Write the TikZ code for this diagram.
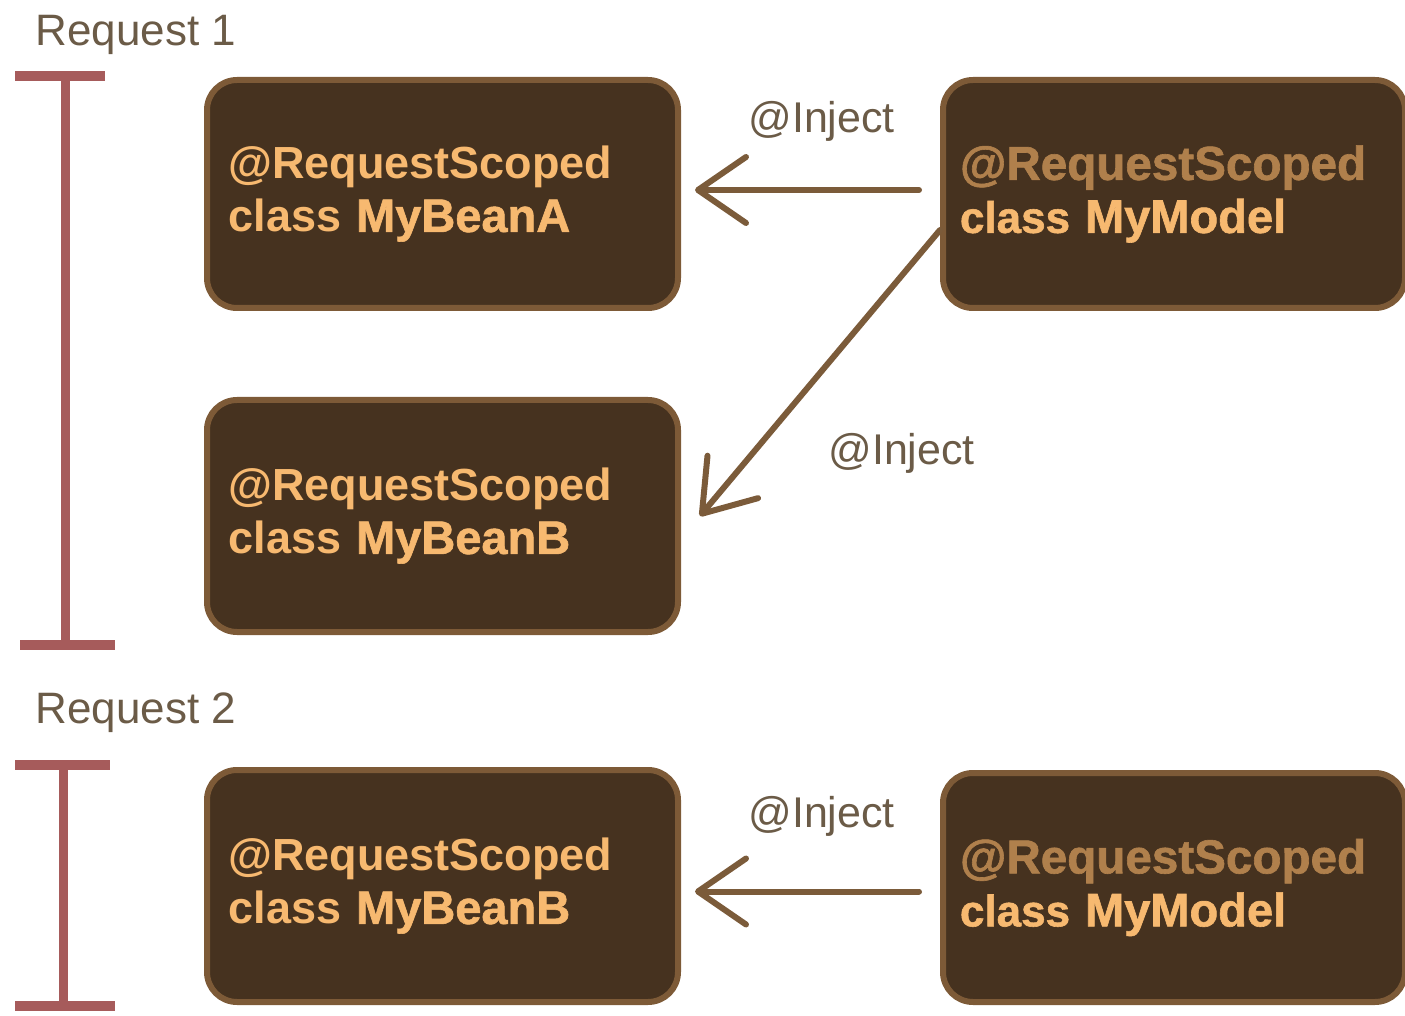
\documentclass[tikz,border=0pt]{standalone}
\usepackage{fontspec}
\setmainfont{Liberation Sans}
\newfontfamily\heavy[UprightFont={* Bold},FakeBold=1.3]{Liberation Sans}
\usetikzlibrary{arrows.meta}
\definecolor{boxfill}{HTML}{46321F}
\definecolor{boxborder}{HTML}{7D5A37}
\definecolor{arrowc}{HTML}{7B5B3A}
\definecolor{beantext}{HTML}{F7B970}
\definecolor{modeltop}{HTML}{B0804C}
\definecolor{labelc}{HTML}{6B5B47}
\definecolor{barc}{HTML}{A65B5B}
\newcommand{\beantxt}[1]{{\bfseries @RequestScoped}\\{\bfseries class }{\heavy\fontsize{23.5}{26}\selectfont #1}}
\newcommand{\modeltxt}[1]{{\heavy\fontsize{23.8}{26}\selectfont\color{modeltop}@RequestScoped}\\{\heavy\fontsize{22}{26}\selectfont class }{\heavy\fontsize{23.5}{26}\selectfont #1}}
\begin{document}
\begin{tikzpicture}[x=0.5pt,y=-0.5pt,
  bean/.style={draw=boxborder, line width=3pt, fill=boxfill, rounded corners=15pt,
    minimum width=235.5pt, minimum height=114pt, inner sep=0pt, text width=214pt,
    align=left, text=beantext, font=\fontsize{22.5}{26.5}\selectfont},
  model/.style={bean, minimum width=231pt},
  lbl/.style={anchor=base west, text=labelc, inner sep=0pt, font=\fontsize{22}{26}\selectfont},
  inj/.style={lbl, font=\fontsize{21.5}{25}\selectfont},
  arr/.style={draw=arrowc, line width=3pt, line cap=round,
    -{Straight Barb[length=24pt, width=33pt, line width=3pt, round]}},
  bar/.style={draw=barc, line width=5pt},
  barv/.style={draw=barc, line width=4.5pt}
]
\useasboundingbox (0,0) rectangle (1405,1016);

% Request labels
\node[lbl] (req1) at (35,46) {Request 1};
\node[lbl] (req2) at (35,723) {Request 2};

% timeline bars
\coordinate (t1a) at (65,76);
\coordinate (t1b) at (65,645);
\draw[bar] (15,76) -- (105,76);
\draw[barv] (t1a) -- (t1b);
\draw[bar] (20,645) -- (115,645);
\coordinate (t2a) at (63,765);
\coordinate (t2b) at (63,1006);
\draw[bar] (15,765) -- (110,765);
\draw[barv] (t2a) -- (t2b);
\draw[bar] (15,1006) -- (115,1006);

% boxes
\node[bean] (a) at (442.5,194) {\beantxt{MyBeanA}};
\node[bean, minimum height=116pt] (b) at (442.5,516) {\beantxt{MyBeanB}};
\node[model] (m1) at (1174,194) {\modeltxt{MyModel}};
\node[bean, minimum height=116pt] (b2) at (442.5,886) {\beantxt{MyBeanB}};
\node[model, minimum height=114.5pt] (m2) at (1174,887.5) {\modeltxt{MyModel}};

% arrows
\draw[arr, shorten <=10.5pt, shorten >=7pt] ([yshift=2pt]m1.west) -- ([yshift=2pt]a.east);
\draw[arr] ([yshift=-18pt]m1.west) -- ([xshift=9.5pt]b.east);
\draw[arr, shorten <=10.5pt, shorten >=7pt] ([yshift=-2pt]m2.west) -- ([yshift=-2pt]b2.east |- m2.west);

% inject labels
\node[inj] (i1) at (748,133) {@Inject};
\node[inj] (i2) at (828,465) {@Inject};
\node[inj] (i3) at (748,827) {@Inject};
\end{tikzpicture}
\end{document}
